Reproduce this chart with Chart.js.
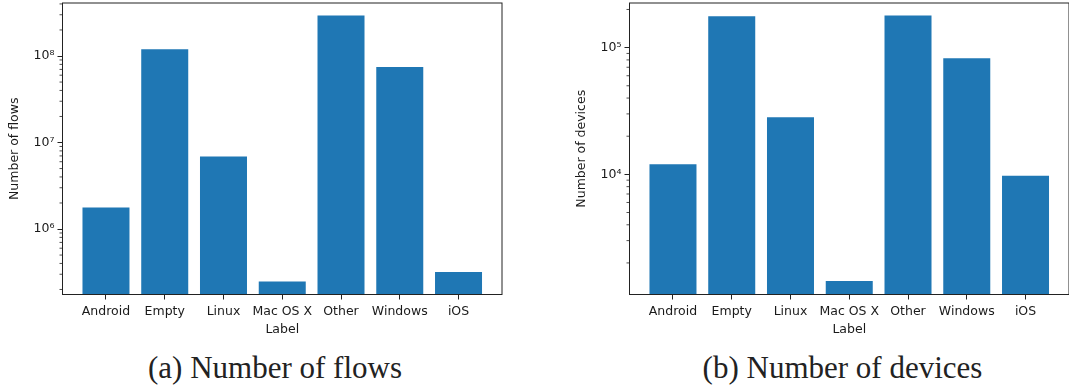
<!DOCTYPE html>
<html><head><meta charset="utf-8">
<script src="https://cdn.jsdelivr.net/npm/chart.js@4.4.1/dist/chart.umd.min.js"></script>
<style>
html,body{margin:0;padding:0;overflow:hidden;background:#fff;width:1069px;height:389px;}
.wrap{position:absolute;top:0;width:520px;height:340px;}
.wrap canvas{display:block;}
.cap{position:absolute;top:348px;height:40px;line-height:40px;font-family:"Liberation Serif",serif;font-size:31px;color:#222;white-space:nowrap;transform:translateX(-50%);}
</style></head><body>
<div class="wrap" style="left:0"><canvas id="c1" width="520" height="340"></canvas></div>
<div class="wrap" style="left:567px"><canvas id="c2" width="520" height="340"></canvas></div>
<div class="cap" style="left:275px">(a) Number of flows</div>
<div class="cap" style="left:842.5px">(b) Number of devices</div>
<script>
const categories = ['Android','Empty','Linux','Mac OS X','Other','Windows','iOS'];
const flows = [1.77e6, 1.2e8, 6.9e6, 2.48e5, 2.93e8, 7.47e7, 3.18e5];
const devices = [12000, 177000, 28200, 1440, 179000, 82500, 9750];
const flowTicks = [1e6, 1e7, 1e8];
const deviceTicks = [1e4, 1e5];
const flowRange = [1.75e5, 4.1e8];
const deviceRange = [1127, 2.25e5];

const SUP = '⁰¹²³⁴⁵⁶⁷⁸⁹';
function powLabel(v){ const e = Math.round(Math.log10(v)); return '10' + String(e).split('').map(d=>SUP[+d]).join(''); }
function minorValues(min, max){
  const out = [];
  for (let e = Math.floor(Math.log10(min)); e <= Math.ceil(Math.log10(max)); e++) {
    for (let k = 2; k <= 9; k++) { const v = k * Math.pow(10, e); if (v >= min && v <= max) out.push(v); }
  }
  return out;
}
const DARK = '#222';
const FONT = {family: '"DejaVu Sans", sans-serif', size: 12.5};

const framePlugin = {
  id: 'frame',
  afterDatasetsDraw(chart){
    const {ctx, chartArea: a} = chart;
    const ys = chart.scales.y;
    ctx.save();
    ctx.strokeStyle = DARK; ctx.lineWidth = 1;
    ctx.strokeRect(a.left, a.top, a.right - a.left, a.bottom - a.top);
    ctx.beginPath();
    minorValues(ys.min, ys.max).forEach(v => {
      const p = ys.getPixelForValue(v);
      ctx.moveTo(a.left - 3, p); ctx.lineTo(a.left, p);
    });
    ctx.lineWidth = 0.8;
    ctx.stroke();
    ctx.restore();
  }
};

function makeChart(id, values, majors, range, ytitle){
  new Chart(document.getElementById(id), {
    type: 'bar',
    data: { datasets: [{ data: values.map((v,i)=>({x:i, y:v})), backgroundColor: '#1f77b4', borderWidth: 0, barPercentage: 0.8, categoryPercentage: 1.0 }] },
    options: {
      responsive: false, animation: false, devicePixelRatio: 1,
      layout: { padding: { left: 0, right: 18, top: 3, bottom: 0 } },
      plugins: { legend: {display: false}, tooltip: {enabled: false} },
      scales: {
        x: {
          type: 'linear', min: -0.74, max: 6.74, bounds: 'data', offset: false,
          afterBuildTicks: s => { s.ticks = categories.map((_, i) => ({value: i})); },
          ticks: { autoSkip: false, maxRotation: 0, minRotation: 0, padding: 5, font: FONT, color: '#1a1a1a', callback: v => categories[v] },
          grid: { display: true, offset: false, drawOnChartArea: false, drawTicks: true, tickLength: 5, color: DARK },
          border: { display: false },
          title: { display: true, text: 'Label', font: FONT, color: '#1a1a1a', padding: {top: 0, bottom: 3} },
          afterFit: s => { s.height = 45.5; s.paddingLeft = 0; s.paddingRight = 0; }
        },
        y: {
          type: 'logarithmic', min: range[0], max: range[1], bounds: 'data',
          afterBuildTicks: s => { s.ticks = majors.map(v => ({value: v, major: true})); },
          ticks: { padding: 3, font: FONT, color: '#1a1a1a', callback: v => powLabel(v) },
          grid: { display: true, offset: false, drawOnChartArea: false, drawTicks: true, tickLength: 5, color: DARK },
          border: { display: false },
          title: { display: true, text: ytitle, font: FONT, color: '#1a1a1a', padding: {top: 7.5, bottom: 0} },
          afterFit: s => { s.width = 62.5; s.paddingTop = 0; s.paddingBottom = 0; }
        }
      }
    },
    plugins: [framePlugin]
  });
}
makeChart('c1', flows, flowTicks, flowRange, 'Number of flows');
makeChart('c2', devices, deviceTicks, deviceRange, 'Number of devices');
</script>
</body></html>
